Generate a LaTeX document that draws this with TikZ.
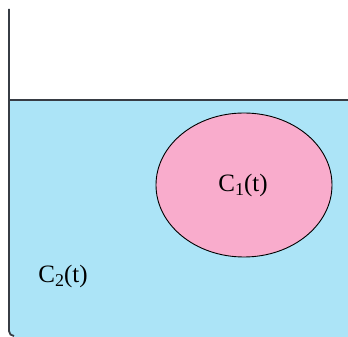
\documentclass[tikz,border=0pt]{standalone}
\usepackage{fontspec}
\setmainfont{Liberation Serif}
\usetikzlibrary{shapes.geometric}
\definecolor{water}{RGB}{172,228,247}
\definecolor{blob}{RGB}{249,172,204}
\definecolor{wall}{RGB}{55,60,68}
\newcommand{\lowsub}[1]{\raisebox{-4pt}{\fontsize{18}{20}\selectfont #1}}
\begin{document}
\begin{tikzpicture}[x=1pt,y=1pt,
  lbl/.style={font=\fontsize{25}{28}\selectfont, inner sep=0pt}]
\useasboundingbox (0,0) rectangle (348,337);
% water fill
\fill[water] (9,237) -- (348,237) -- (348,0) -- (14,0) to[out=180,in=-90] (9,5) -- cycle;
% wall and surface
\draw[wall, line width=1.8pt] (9,328) -- (9,6) to[out=-90,in=180] (14,1);
\draw[wall, line width=1.8pt] (9,237) -- (348,237);
% inner region
\node[ellipse, draw=black, line width=0.9pt, fill=blob, minimum width=176pt, minimum height=144pt, inner sep=0pt] (c1) at (244,152) {};
\node[lbl] (t1) at (243,152) {C\lowsub{1}(t)};
\node[lbl] (t2) at (63,61) {C\lowsub{2}(t)};
\end{tikzpicture}
\end{document}
